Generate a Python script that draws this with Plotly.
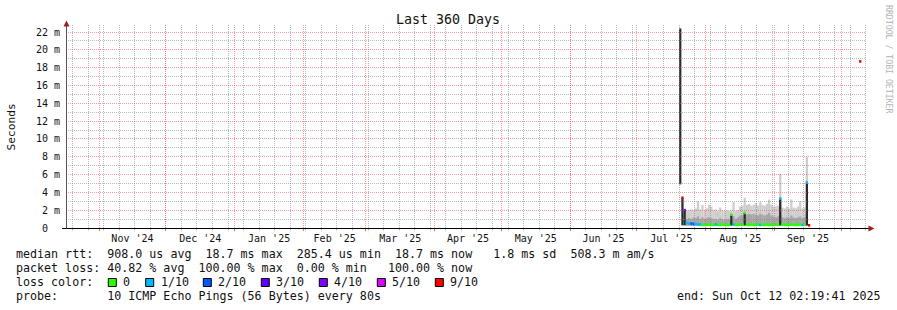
import math
import plotly.graph_objects as go
import pandas as pd

# ------------------------------------------------------------------ data
END_TIME = "2025-10-12 02:19:41"
START_TIME = "2024-10-17 02:19:41"

day_dates = list(pd.date_range("2025-07-20", "2025-09-16", freq="D").strftime("%Y-%m-%d"))

# light smoke (ms)
smoke_lo = [None, None, None,
            0.25, 0.25, 0.25, 0.25, 0.25, 0.25, 0.25, 0.25, 0.25,
            0.25, 0.25, 0.25, 0.25, 0.25, 0.25, 0.25, 0.25, 0.25, 0.25,
            0.25, 0.25, 0.25, 0.25, 0.25, 0.25, 0.25, 0.25, 0.25, 0.25,
            0.25, 0.25, 0.25, 0.25, 0.25, 0.25, 0.25, 0.25, 0.25, 0.25,
            0.25, 0.25, 0.25, 0.25, 0.25, 0.25, 0.25, 0.25, 0.25, 0.25,
            0.25, 0.25, 0.25, 0.25, 0.25, 0.25, None]
smoke_hi = [None, None, None,
            2.0, 2.0, 2.1, 2.0, 2.2, 3.0, 2.1, 2.6, 2.0,
            2.2, 2.6, 2.4, 2.0, 2.1, 1.9, 2.3, 2.0, 1.9, 2.0,
            1.9, 2.0, 2.9, 1.9, 2.0, 2.4, 2.5, 3.4, 2.6, 2.7,
            2.5, 2.6, 2.8, 2.5, 2.9, 2.6, 2.5, 2.7, 3.2, 2.6,
            2.4, 2.4, 2.5, 6.1, 2.3, 2.2, 2.4, 2.2, 3.2, 2.3,
            2.2, 2.4, 3.0, 2.2, 2.3, 8.0, None]
# inner (darker) smoke (ms)
mid_hi = [None, None, None,
          1.0, 1.1, 1.0, 1.2, 1.1, 1.3, 1.0, 1.2, 1.0,
          1.1, 1.2, 1.1, 1.0, 1.0, 0.9, 1.1, 1.0, 0.9, 1.0,
          1.0, 1.1, 1.3, 1.0, 1.2, 1.4, 1.4, 1.6, 1.5, 1.6,
          1.5, 1.6, 1.5, 1.4, 1.6, 1.5, 1.4, 1.5, 1.7, 1.4,
          1.3, 1.2, 1.3, 1.5, 1.2, 1.1, 1.2, 1.1, 1.4, 1.2,
          1.1, 1.2, 1.3, 1.1, 1.2, 1.6, None]
# darkest smoke (ms)
dark_lo = [4.9, 0.3, 0.3,
           None, None, None, None, None, None, None, None, None,
           None, None, None, None, None, None, None, None, None, None,
           None, 0.3, None, None, None, None, None, 0.3, None, None,
           None, None, None, None, None, None, None, None, None, None,
           None, None, None, 0.3, None, None, None, None, None, None,
           None, None, None, None, None, 0.3, None]
dark_hi = [22.4, 3.4, 2.0,
           None, None, None, None, None, None, None, None, None,
           None, None, None, None, None, None, None, None, None, None,
           None, 1.5, None, None, None, None, None, 1.7, None, None,
           None, None, None, None, None, None, None, None, None, None,
           None, None, None, 3.3, None, None, None, None, None, None,
           None, None, None, None, None, 5.1, None]
# median rtt (ms) and loss (pings lost out of 10)
median_ms = [None, 3.4, 2.0,
             0.55, 0.5, 0.5, 0.45, 0.45, 0.4, 0.4, 0.35, 0.35,
             0.35, 0.4, 0.35, 0.35, 0.4, 0.35, 0.35, 0.4, 0.35, 0.35,
             0.35, 1.5, 0.4, 0.35, 0.35, 0.4, 0.35, 1.7, 0.35, 0.35,
             0.4, 0.35, 0.35, 0.4, 0.35, 0.35, 0.35, 0.4, 0.35, 0.35,
             0.35, 0.4, 0.35, 3.3, 0.4, 0.35, 0.35, 0.35, 0.4, 0.35,
             0.35, 0.35, 0.4, 0.35, 0.4, 5.1, 0.3]
loss_tenths = [None, 9, 3,
               1, 1, 2, 2, 1, 1, 1, 0, 0,
               0, 0, 0, 0, 1, 0, 0, 0, 0, 0,
               0, 0, 1, 0, 0, 0, 0, 0, 0, 0,
               0, 0, 0, 0, 1, 0, 0, 0, 0, 0,
               0, 0, 0, 1, 0, 0, 0, 0, 0, 0,
               0, 0, 0, 1, 0, 1, 9]
last_dates = ["2025-10-09"]
last_median_ms = [18.7]
last_loss = [9]

loss_levels = [0, 1, 2, 3, 4, 5, 9]
loss_labels = ["0", "1/10", "2/10", "3/10", "4/10", "5/10", "9/10"]
loss_colors = ["#26ff00", "#00b8ff", "#0059ff", "#5e00ff", "#7e00ff", "#dd00ff", "#ff0000"]

y_tick_vals_ms = [0, 2, 4, 6, 8, 10, 12, 14, 16, 18, 20, 22]
y_tick_text = ["0  ", "2 m", "4 m", "6 m", "8 m", "10 m", "12 m", "14 m", "16 m", "18 m", "20 m", "22 m"]

legend_line1 = "median rtt:  908.0 us avg  18.7 ms max  285.4 us min  18.7 ms now   1.8 ms sd  508.3 m am/s"
legend_line2 = "packet loss: 40.82 % avg  100.00 % max  0.00 % min   100.00 % now"
legend_probe = "probe:       10 ICMP Echo Pings (56 Bytes) every 80s"
legend_end = "end: Sun Oct 12 02:19:41 2025"

# ------------------------------------------------------------------ layout geometry
W, H = 897, 310
L, R, T, B = 66, 31, 25, 82
PW, PH = W - L - R, H - T - B
Y_TOP_MS = 22.79
MONO = "DejaVu Sans Mono"
DAY_MS = 86400000
T0 = pd.Timestamp(START_TIME)
T1 = pd.Timestamp(END_TIME)


def px(x):
    return (x - L) / PW


def py(y):
    return (H - B - y) / PH


def sec(v):
    return None if v is None else v / 1000.0


fig = go.Figure()


def band(lo, hi, color):
    xs, base, height = [], [], []
    for d, a, b in zip(day_dates, lo, hi):
        if a is None or b is None:
            continue
        xs.append(d)
        base.append(sec(a))
        height.append(sec(b) - sec(a))
    fig.add_trace(go.Bar(x=xs, y=height, base=base, width=DAY_MS * 1.02,
                         xperiod=DAY_MS, xperiodalignment="middle",
                         marker=dict(color=color, line=dict(width=0)),
                         showlegend=False, hoverinfo="skip"))


band(smoke_lo, smoke_hi, "#cdcdcd")
band(smoke_lo, mid_hi, "#a6a6a6")
band(dark_lo, dark_hi, "#2a2a2a")

# median markers coloured by loss
THICK = 0.3
cmap = dict(zip(loss_levels, loss_colors))
mx, mb, mc = [], [], []
for d, m, l in list(zip(day_dates, median_ms, loss_tenths)) + list(zip(last_dates, last_median_ms, last_loss)):
    if m is None:
        continue
    mx.append(d)
    mb.append(sec(m - THICK / 2))
    mc.append(cmap[l])
fig.add_trace(go.Bar(x=mx, y=[THICK / 1000.0] * len(mx), base=mb, width=DAY_MS * 1.02,
                     xperiod=DAY_MS, xperiodalignment="middle",
                     marker=dict(color=mc, line=dict(width=0)),
                     showlegend=False, hoverinfo="skip"))

fig.update_layout(
    width=W, height=H, margin=dict(l=L, r=R, t=T, b=B, pad=0),
    paper_bgcolor="white", plot_bgcolor="white",
    barmode="overlay", showlegend=False,
    font=dict(family=MONO, size=10, color="#111"),
    xaxis=dict(
        type="date", range=[START_TIME, END_TIME],
        dtick="M1", tick0="2024-11-01", ticklabelmode="period", tickformat="%b '%y",
        showgrid=False, ticks="", ticklabelstandoff=3,
        tickfont=dict(family=MONO, size=10, color="#111"),
        showline=False, zeroline=False, fixedrange=True,
    ),
    yaxis=dict(
        range=[0, Y_TOP_MS / 1000.0],
        tickmode="array", tickvals=[v / 1000.0 for v in y_tick_vals_ms],
        ticktext=[t.replace(" ", "\u00a0") for t in y_tick_text],
        showgrid=False, ticks="", tickfont=dict(family=MONO, size=10, color="#111"),
        ticklabelstandoff=5,
        showline=False, zeroline=False, fixedrange=True,
    ),
)

shapes = []

# ---- grid (drawn over the data, like rrdtool), snapped to pixel rows/columns
MAJ = "rgba(240,80,80,0.55)"
MIN = "rgba(130,130,130,0.55)"
DASH = "1px,1px"
PLOT_BOTTOM = H - B


def xpix(ts):
    return L + (ts - T0).total_seconds() / (T1 - T0).total_seconds() * PW


def vline(xc, color, y_top=T, y_bot=PLOT_BOTTOM):
    shapes.append(dict(type="line", xref="paper", yref="paper", layer="above",
                       x0=px(xc), x1=px(xc), y0=py(y_bot), y1=py(y_top),
                       line=dict(color=color, width=1, dash=DASH)))


def hline(yc, color):
    shapes.append(dict(type="line", xref="paper", yref="paper", layer="above",
                       x0=px(L), x1=px(L + PW), y0=py(yc), y1=py(yc),
                       line=dict(color=color, width=1, dash=DASH)))


months = pd.date_range("2024-11-01", "2025-10-01", freq="MS")
weeks = pd.date_range("2024-10-20", "2025-10-12", freq="7D")
for wk in weeks:
    xc = math.floor(xpix(wk)) + 0.5
    vline(xc, MIN)
    shapes.append(dict(type="line", xref="paper", yref="paper", x0=px(xc), x1=px(xc),
                       y0=py(PLOT_BOTTOM + 0.5), y1=py(PLOT_BOTTOM + 2.5),
                       line=dict(color="#bbbbbb", width=1)))
for mo in months:
    xc = math.floor(xpix(mo)) + 0.5
    vline(xc, MAJ)
    shapes.append(dict(type="line", xref="paper", yref="paper", x0=px(xc), x1=px(xc),
                       y0=py(PLOT_BOTTOM + 0.5), y1=py(PLOT_BOTTOM + 3),
                       line=dict(color="rgba(230,80,80,0.8)", width=1)))
for v in range(1, 23):
    yc = math.floor(PLOT_BOTTOM - v / Y_TOP_MS * PH) + 0.5
    hline(yc, MAJ if v % 2 == 0 else MIN)

# axes lines
shapes.append(dict(type="line", xref="paper", yref="paper", x0=px(62), x1=px(869), y0=py(228.5), y1=py(228.5),
                   line=dict(color="#000000", width=1)))
shapes.append(dict(type="line", xref="paper", yref="paper", x0=px(66.5), x1=px(66.5), y0=py(228.5), y1=py(25),
                   line=dict(color="#555555", width=1)))
# arrows
ARW = "#a01e1e"
shapes.append(dict(type="path", xref="paper", yref="paper",
                   path=f"M {px(868.5)} {py(225.5)} L {px(874.5)} {py(228.5)} L {px(868.5)} {py(231.5)} Z",
                   fillcolor=ARW, line=dict(color=ARW, width=0)))
shapes.append(dict(type="path", xref="paper", yref="paper",
                   path=f"M {px(63.5)} {py(26.5)} L {px(66.5)} {py(20.5)} L {px(69.5)} {py(26.5)} Z",
                   fillcolor=ARW, line=dict(color=ARW, width=0)))

annotations = []


def text(x, y, s, size=11.66, anchor="left", color="#111", angle=0, vanchor="middle"):
    annotations.append(dict(x=px(x), y=py(y), xref="paper", yref="paper", text=s.replace(" ", "\u00a0"),
                            showarrow=False, xanchor=anchor, yanchor=vanchor, textangle=angle,
                            borderpad=0, borderwidth=0,
                            font=dict(family=MONO, size=size, color=color)))


text(447.5, 19.5, "Last 360 Days", size=13.3, anchor="center")
text(10.5, 127, "Seconds", size=11.2, anchor="center", angle=-90)
text(889, 59, "RRDTOOL / TOBI OETIKER", size=8.2, anchor="center", angle=90, color="#b4b4b4")

text(16, 254, legend_line1)
text(16, 268, legend_line2)
text(16, 282, "loss color:")
box_x = [108.3, 145.7, 203.3, 261.3, 319.3, 377.3, 435.3]
for bx, lab, col in zip(box_x, loss_labels, loss_colors):
    shapes.append(dict(type="rect", xref="paper", yref="paper",
                       x0=px(bx), x1=px(bx + 8), y0=py(286.5), y1=py(278.5),
                       fillcolor=col, line=dict(color="#000000", width=1)))
    text(bx + 15, 282, lab)
text(16, 296, legend_probe)
text(881, 296, legend_end, anchor="right")

fig.update_layout(shapes=shapes, annotations=annotations)
fig.write_html("out.html")
